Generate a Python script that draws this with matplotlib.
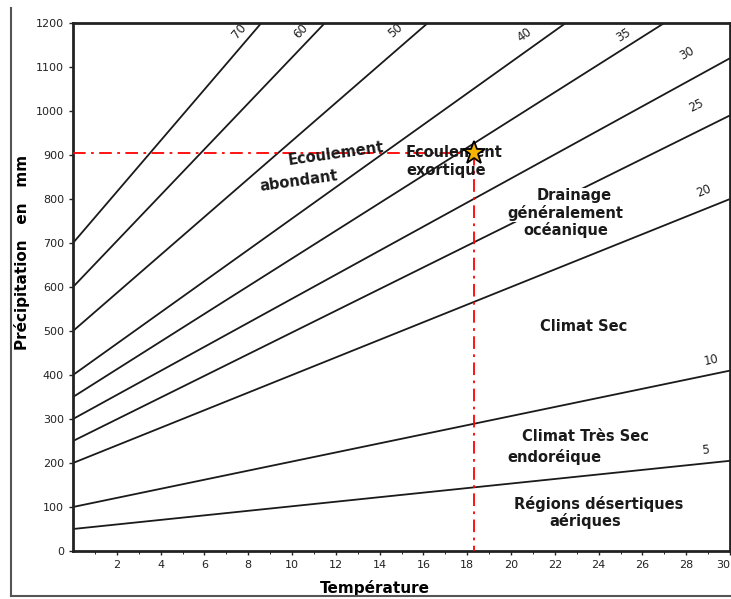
import numpy as np
import matplotlib
matplotlib.use("Agg")
import matplotlib.pyplot as plt
from matplotlib.lines import Line2D

# aridity index lines: start at T=0, end point (T, P)
indices = [70, 60, 50, 40, 35, 30, 25, 20, 10, 5]
p_start = [700, 600, 500, 400, 350, 300, 250, 200, 100, 50]
t_end = [8.6, 11.5, 16.2, 22.5, 27.0, 30, 30, 30, 30, 30]
p_end = [1200, 1200, 1200, 1200, 1200, 1120, 990, 800, 410, 205]

# where the index number sits (T, P)
lab_t = [7.8, 10.6, 14.9, 20.8, 25.3, 28.2, 28.6, 28.9, 29.2, 28.9]
lab_p = [1172, 1172, 1172, 1162, 1160, 1118, 1000, 805, 420, 215]

# marked station
star_t, star_p = 18.3, 905

x_ticks = list(range(2, 31, 2))
y_ticks = list(range(0, 1201, 100))

fig = plt.figure(figsize=(7.31, 5.99), dpi=100)
ax = fig.add_axes([73/731, 48/599, 657/731, 528/599])
ax.set_xlim(0, 30)
ax.set_ylim(0, 1200)

for i in range(len(indices)):
    ax.plot([0, t_end[i]], [p_start[i], p_end[i]], color="#1a1a1a", lw=1.3,
            solid_capstyle="butt", zorder=2)

fig.canvas.draw()
for i in range(len(indices)):
    a = ax.transData.transform((0, p_start[i]))
    b = ax.transData.transform((t_end[i], p_end[i]))
    ang = np.degrees(np.arctan2(b[1] - a[1], b[0] - a[0]))
    ax.text(lab_t[i], lab_p[i], str(indices[i]), rotation=ang, fontsize=8.5,
            ha="center", va="bottom", rotation_mode="anchor", color="#222")

# red guide lines to the station
red = dict(color="red", lw=1.3, dashes=(7, 3, 1.5, 3), zorder=3)
ax.plot([0, star_t], [star_p, star_p], **red)
ax.plot([star_t, star_t], [star_p, 0], **red)
ax.plot(star_t, star_p, marker="*", ms=17, mfc="#f5b400", mec="black",
        mew=1.3, zorder=5)

tb = dict(fontsize=10.5, fontweight="bold", color="#1a1a1a")
wb = dict(fc="white", ec="none", pad=0.5)
ax.text(12.0, 902, "Ecoulement", rotation=8, ha="center", va="center", **tb)
ax.text(10.3, 840, "abondant", rotation=8, ha="center", va="center", **tb)
ax.text(15.2, 905, "Ecoulement", ha="left", va="center", zorder=4, **tb)
ax.text(15.2, 864, "exortique", ha="left", va="center", **tb)
ax.text(22.9, 807, "Drainage", ha="center", va="center", zorder=4,
        bbox=wb, **tb)
ax.text(22.5, 768, "généralement", ha="center", va="center", zorder=4,
        bbox=wb, **tb)
ax.text(22.5, 730, "océanique", ha="center", va="center", **tb)
ax.text(23.3, 510, "Climat Sec", ha="center", va="center", **tb)
ax.text(23.4, 260, "Climat Très Sec", ha="center", va="center", **tb)
ax.text(22.0, 214, "endoréique", ha="center", va="center", **tb)
ax.text(24.0, 107, "Régions désertiques", ha="center", va="center", **tb)
ax.text(23.4, 68, "aériques", ha="center", va="center", **tb)

ax.set_xticks(x_ticks)
ax.set_xticklabels([str(t) for t in x_ticks])
ax.set_yticks(y_ticks)
ax.set_xticks(np.arange(1, 30, 2), minor=True)
ax.tick_params(axis="both", labelsize=8, colors="#222", length=3, width=1)
ax.tick_params(axis="x", which="minor", length=2)
ax.get_xticklabels()[-1].set_horizontalalignment("right")
for s in ax.spines.values():
    s.set_linewidth(2)
    s.set_color("#222")

ax.set_xlabel("Température", fontsize=11, fontweight="bold")
ax.xaxis.set_label_coords(0.46, -0.055)
ax.set_ylabel("Précipitation   en   mm", fontsize=11, fontweight="bold")
ax.yaxis.set_label_coords(-0.066, 0.566)

# scan frame on left and bottom
fig.add_artist(Line2D([11/731, 11/731], [1 - 8/599, 1 - 596/599],
                      color="#555", lw=1.5))
fig.add_artist(Line2D([11/731, 1], [1 - 596/599, 1 - 596/599],
                      color="#555", lw=1.5))

fig.savefig("out.png", dpi=100)
